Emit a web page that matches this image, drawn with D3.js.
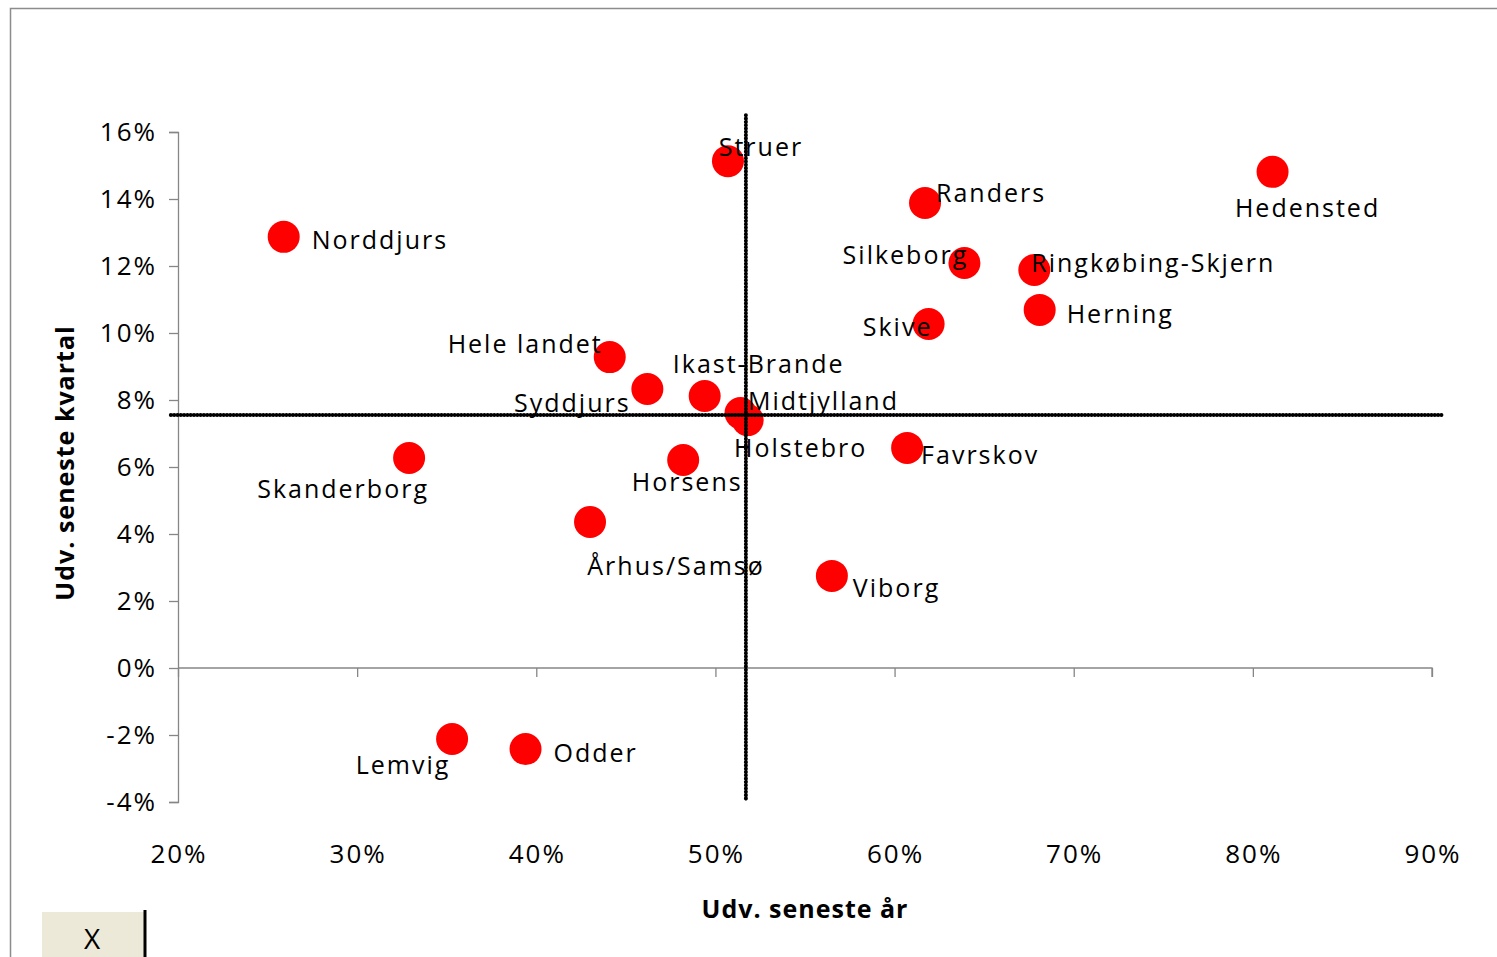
<!DOCTYPE html>
<html><head><meta charset="utf-8">
<script src="https://cdn.jsdelivr.net/npm/d3@7"></script>
<style>
body{margin:0;background:#fff;}
svg{display:block;}
text{font-family:"Open Sans","Noto Sans",sans-serif;}
</style></head>
<body><svg id="c" width="1497" height="957"></svg>
<script>
// ---- data ----
const names = ["Norddjurs","Skanderborg","Lemvig","Odder","Århus/Samsø","Hele landet","Syddjurs","Horsens","Ikast-Brande","Struer","Midtjylland","Holstebro","Viborg","Favrskov","Randers","Skive","Silkeborg","Ringkøbing-Skjern","Herning","Hedensted"];
const growthYear = [0.259,0.329,0.353,0.394,0.430,0.441,0.462,0.482,0.494,0.507,0.514,0.518,0.565,0.607,0.617,0.619,0.639,0.678,0.681,0.811];
const growthQuarter = [0.1287,0.0627,-0.0212,-0.0242,0.0436,0.0928,0.0833,0.0621,0.0812,0.1513,0.0761,0.0740,0.0275,0.0657,0.1388,0.1027,0.1209,0.1188,0.1069,0.1481];
const xTicks = [0.2,0.3,0.4,0.5,0.6,0.7,0.8,0.9];
const yTicks = [-0.04,-0.02,0,0.02,0.04,0.06,0.08,0.10,0.12,0.14,0.16];
const refX = 0.517, refY = 0.0755;
const xTitle = "Udv. seneste år";
const yTitle = "Udv. seneste kvartal";

// ---- label layout (offset from marker centre, text anchor) ----
const labelLayout = {
  "Norddjurs":[28,3,"start"],"Skanderborg":[-67,31,"middle"],"Lemvig":[-50,26,"middle"],
  "Odder":[28,4,"start"],"Århus/Samsø":[85,44,"middle"],"Hele landet":[-9,-13,"end"],
  "Syddjurs":[-76,14,"middle"],"Horsens":[3,22,"middle"],"Ikast-Brande":[53,-32,"middle"],
  "Struer":[32,-14,"middle"],"Midtjylland":[82,-12,"middle"],"Holstebro":[52,28,"middle"],
  "Viborg":[21,12,"start"],"Favrskov":[14,7,"start"],"Randers":[11,-10,"start"],
  "Skive":[-32,3,"middle"],"Silkeborg":[-60,-8,"middle"],"Ringkøbing-Skjern":[-3,-7,"start"],
  "Herning":[27,4,"start"],"Hedensted":[34,36,"middle"]
};

const svg = d3.select("#c");
const x = d3.scaleLinear().domain([0.2,0.9]).range([178,1432]);
const y = d3.scaleLinear().domain([-0.04,0.16]).range([802,132]);
const pct = d => Math.round(d*100) + "%";
const LS = "2px";

// outer frame
svg.append("path").attr("d","M10.5,957 V8.5 H1497").attr("fill","none").attr("stroke","#8c8c8c").attr("stroke-width",1.5);

// axes
const gx = svg.append("g").attr("transform",`translate(0,${y(0)})`)
  .call(d3.axisBottom(x).tickValues(xTicks).tickFormat(()=>"").tickSize(9).tickSizeOuter(9));
const gy = svg.append("g").attr("transform",`translate(${x(0.2)},0)`)
  .call(d3.axisLeft(y).tickValues(yTicks).tickFormat(()=>"").tickSize(9).tickSizeOuter(9));
[gx,gy].forEach(g=>{g.selectAll("path,line").attr("stroke","#868686").attr("stroke-width",1.3);});
gx.select(".domain").attr("d",`M${x(0.2)},0H${x(0.9)}V9`);

// tick labels
svg.append("g").selectAll("text").data(xTicks).join("text")
  .attr("x",d=>x(d)+1).attr("y",863).attr("text-anchor","middle").style("letter-spacing",LS)
  .attr("font-size",26).attr("fill","#000").text(pct);
svg.append("g").selectAll("text").data(yTicks).join("text")
  .attr("x",157).attr("y",d=>y(d)+9).attr("text-anchor","end").style("letter-spacing",LS)
  .attr("font-size",26).attr("fill","#000").text(pct);

// axis titles
svg.append("text").attr("x",805).attr("y",918).attr("text-anchor","middle").style("letter-spacing","1px")
  .attr("font-size",25).attr("font-weight","bold").text(xTitle);
svg.append("text").attr("transform","translate(74,463) rotate(-90)").attr("text-anchor","middle").style("letter-spacing","1px")
  .attr("font-size",25).attr("font-weight","bold").text(yTitle);

// points
const data = names.map((n,i)=>({n,xv:growthYear[i],yv:growthQuarter[i]}));
svg.append("g").selectAll("circle").data(data).join("circle")
  .attr("cx",d=>x(d.xv)).attr("cy",d=>y(d.yv)).attr("r",16).attr("fill","#ff0000");

// labels
svg.append("g").selectAll("text").data(data).join("text")
  .attr("x",d=>x(d.xv)+labelLayout[d.n][0]+(labelLayout[d.n][2]==="middle"?1:labelLayout[d.n][2]==="end"?2:0))
  .attr("y",d=>y(d.yv)+labelLayout[d.n][1])
  .attr("dy","0.35em").attr("text-anchor",d=>labelLayout[d.n][2]).style("letter-spacing",LS)
  .attr("font-size",25).attr("fill","#000").text(d=>d.n);

// reference lines
const dash = {"stroke":"#000","stroke-width":4,"stroke-dasharray":"0.1 3.2","stroke-linecap":"round","fill":"none"};
const dash2 = {"stroke":"#000","stroke-width":1.5,"fill":"none"};
const mk = () => [
  svg.append("line").attr("x1",x(refX)).attr("x2",x(refX)).attr("y1",y(0.165)).attr("y2",y(-0.0395)),
  svg.append("line").attr("x1",x(0.196)).attr("x2",x(0.906)).attr("y1",y(refY)).attr("y2",y(refY))
];
mk().forEach(l=>Object.entries(dash2).forEach(([k,v])=>l.attr(k,v)));
mk().forEach(l=>Object.entries(dash).forEach(([k,v])=>l.attr(k,v)));

// button
svg.append("rect").attr("x",42).attr("y",912).attr("width",102).attr("height",45).attr("fill","#ece9d8");
svg.append("line").attr("x1",145).attr("x2",145).attr("y1",910).attr("y2",957).attr("stroke","#000").attr("stroke-width",3);
svg.append("text").attr("x",92).attr("y",949).attr("text-anchor","middle").attr("font-size",28).text("X");
</script></body></html>
